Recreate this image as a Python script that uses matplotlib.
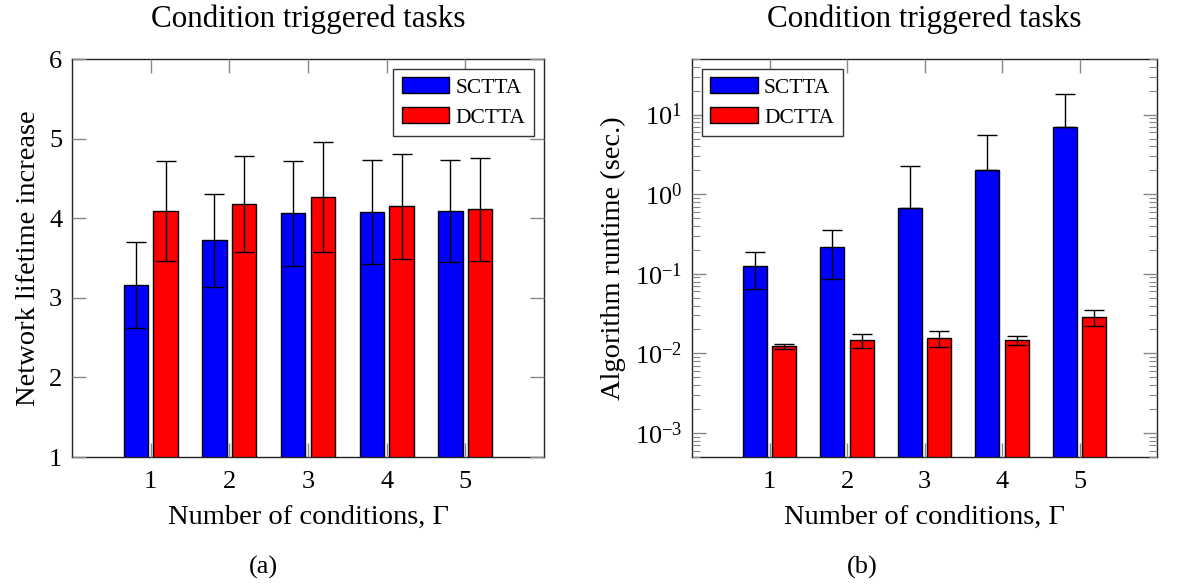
import numpy as np
import matplotlib
matplotlib.use("Agg")
import matplotlib.pyplot as plt

plt.rcParams["font.family"] = ["Liberation Serif", "DejaVu Serif"]
plt.rcParams["mathtext.fontset"] = "stix"

# data
conditions = [1, 2, 3, 4, 5]
series_names = ["SCTTA", "DCTTA"]

lifetime_sctta = [3.16, 3.72, 4.06, 4.08, 4.09]
lifetime_sctta_err = [0.54, 0.58, 0.66, 0.65, 0.64]
lifetime_dctta = [4.09, 4.18, 4.27, 4.15, 4.11]
lifetime_dctta_err = [0.63, 0.60, 0.69, 0.66, 0.645]

runtime_sctta = [0.127, 0.22, 0.668, 2.03, 7.0]
runtime_sctta_err = [0.063, 0.134, 1.59, 3.52, 11.2]
runtime_dctta = [0.0123, 0.0148, 0.0158, 0.0148, 0.0286]
runtime_dctta_err = [0.0008, 0.003, 0.0036, 0.002, 0.0068]

title = "Condition triggered tasks"
xlabel = "Number of conditions, Γ"
ylabels = ["Network lifetime increase", "Algorithm runtime (sec.)"]
panel_tags = ["(a)", "(b)"]

COLORS = ["#0000ff", "#ff0000"]
OFFS = [-0.19, 0.19]
WIDTH = 0.31

fig = plt.figure(figsize=(11.77, 5.87), dpi=100)
ax1 = fig.add_axes([72 / 1177, 130 / 587, 472 / 1177, 398 / 587])
ax2 = fig.add_axes([692 / 1177, 130 / 587, 465 / 1177, 398 / 587])

x = np.array(conditions, dtype=float)


def draw_bars(ax, vals, errs, log=False):
    for i, (v, e) in enumerate(zip(vals, errs)):
        v = np.array(v)
        e = np.array(e)
        ax.bar(x + OFFS[i], v, WIDTH, color=COLORS[i], edgecolor="black",
               linewidth=1.0, label=series_names[i], zorder=2)
        lower = e
        if log:
            # lower end would go below zero: pgfplots drops it
            lower = np.where(v - e > 0, e, 0)
        ax.errorbar(x + OFFS[i], v, yerr=[lower, e], fmt="none", ecolor="black",
                    elinewidth=1.0, capsize=7.5, capthick=1.0, zorder=3)


draw_bars(ax1, [lifetime_sctta, lifetime_dctta],
          [lifetime_sctta_err, lifetime_dctta_err])
draw_bars(ax2, [runtime_sctta, runtime_dctta],
          [runtime_sctta_err, runtime_dctta_err], log=True)

ax1.set_ylim(1, 6)
ax1.set_yticks([1, 2, 3, 4, 5, 6])
ax2.set_yscale("log")
ax2.set_ylim(5e-4, 50)
ax2.set_yticks([1e-3, 1e-2, 1e-1, 1, 10])

for ax, yl in zip([ax1, ax2], ylabels):
    ax.set_xlim(0, 6)
    ax.set_xticks(conditions)
    ax.set_title(title, fontsize=22.4, pad=23)
    ax.set_xlabel(xlabel, fontsize=20.5, labelpad=9)
    ax.set_ylabel(yl, fontsize=20.5, labelpad=6)
    ax.tick_params(which="major", direction="in", length=10, width=1.0,
                   color="#888888", top=True, right=True, labelsize=19, pad=7)
    ax.tick_params(axis="x", which="major", pad=10)
    ax.tick_params(which="minor", direction="in", length=6, width=0.8,
                   color="#888888", top=False, right=True)
    for s in ax.spines.values():
        s.set_color("#222222")
        s.set_linewidth(1.0)
    ax.set_axisbelow(False)

legend_kw = dict(fontsize=15.5, frameon=True, fancybox=False, edgecolor="#333333",
                 framealpha=1, handlelength=2.2, handleheight=0.75,
                 handletextpad=0.3, borderaxespad=0.45, labelspacing=0.45)
ax1.legend(loc="upper right", **legend_kw)
ax2.legend(loc="upper left", **legend_kw)

fig.text(263 / 1177, 1 - 567 / 587, panel_tags[0], ha="center", va="center", fontsize=19)
fig.text(862 / 1177, 1 - 567 / 587, panel_tags[1], ha="center", va="center", fontsize=19)

fig.savefig("out.png", dpi=100)
